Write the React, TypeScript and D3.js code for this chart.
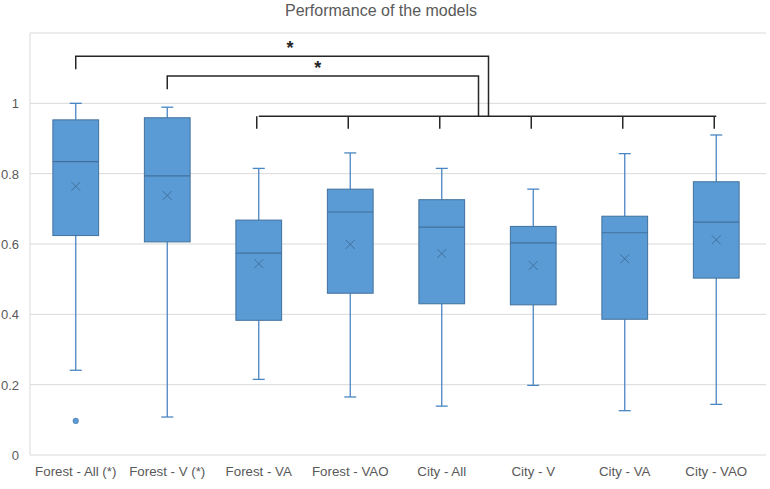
import React from "react";
import * as d3 from "d3";

const categories = ["Forest - All (*)", "Forest - V (*)", "Forest - VA", "Forest - VAO", "City - All", "City - V", "City - VA", "City - VAO"];
const whiskerLow = [0.241, 0.108, 0.215, 0.165, 0.139, 0.198, 0.126, 0.144];
const q1 = [0.624, 0.606, 0.383, 0.46, 0.43, 0.427, 0.386, 0.503];
const median = [0.834, 0.794, 0.574, 0.691, 0.648, 0.603, 0.632, 0.662];
const q3 = [0.953, 0.959, 0.668, 0.756, 0.726, 0.65, 0.679, 0.777];
const whiskerHigh = [1.0, 0.989, 0.815, 0.859, 0.815, 0.756, 0.857, 0.91];
const means = [0.764, 0.738, 0.544, 0.599, 0.573, 0.539, 0.558, 0.612];
const outliers = [[0.097], [], [], [], [], [], [], []];
const yTicks = [0, 0.2, 0.4, 0.6, 0.8, 1];
const groupMembers = [2, 3, 4, 5, 6, 7];
const sigFrom = [0, 1];
const sigLevel = [1.134, 1.078];
const sigLegEnd = [1.097, 1.04];
const groupLevel = 0.963;
const groupLegEnd = 0.928;

const W = 770;
const H = 489;
const left = 30;
const right = 762;
const top = 33;
const bottom = 455;

export default function App() {
  const x = d3.scaleBand<string>().domain(categories).range([left, right]).padding(0);
  const y = d3.scaleLinear().domain([0, 1.2]).range([bottom, top]);
  const bw = x.bandwidth();
  const boxW = bw * 0.5;
  const capW = 12;
  const cx = (i: number) => (x(categories[i]) as number) + bw / 2;
  const groupL = cx(groupMembers[0]);
  const groupR = cx(groupMembers[groupMembers.length - 1]);
  const groupMid = (groupL + groupR) / 2;
  const sigEnds = [groupMid + 1, groupMid - 9];
  const font = "'Liberation Sans', Arial, sans-serif";
  const txt = "#595959";
  const fill = "#5B9BD5";
  const stroke = "#41719C";
  const whisk = "#4A86C2";
  const black = "#262626";
  const sigStarX = [(cx(0) + sigEnds[0]) / 2 + 8, (cx(1) + sigEnds[1]) / 2 - 5];

  return (
    <svg width={W} height={H} style={{ position: "absolute", left: 0, top: 0, background: "#fff" }} fontFamily={font}>
      <text x={381} y={16} textAnchor="middle" fontSize={16} fill={txt}>Performance of the models</text>
      {[...yTicks, 1.2].map((t) => (
        <line key={"g" + t} x1={left} x2={right + 4} y1={y(t)} y2={y(t)} stroke="#d9d9d9" strokeWidth={1} />
      ))}
      <line x1={left} x2={left} y1={top} y2={bottom} stroke="#d9d9d9" strokeWidth={1} />
      {yTicks.map((t) => (
        <text key={"t" + t} x={19} y={y(t) + 5} textAnchor="end" fontSize={13} fill={txt}>{String(t)}</text>
      ))}
      {categories.map((c, i) => (
        <text key={"c" + c} x={cx(i)} y={476} textAnchor="middle" fontSize={13.3} fill={txt}>{c}</text>
      ))}
      {categories.map((c, i) => {
        const m = cx(i);
        return (
          <g key={"b" + c}>
            <line x1={m} x2={m} y1={y(whiskerHigh[i])} y2={y(q3[i])} stroke={whisk} strokeWidth={1.3} />
            <line x1={m} x2={m} y1={y(q1[i])} y2={y(whiskerLow[i])} stroke={whisk} strokeWidth={1.3} />
            <line x1={m - capW / 2} x2={m + capW / 2} y1={y(whiskerHigh[i])} y2={y(whiskerHigh[i])} stroke={whisk} strokeWidth={1.3} />
            <line x1={m - capW / 2} x2={m + capW / 2} y1={y(whiskerLow[i])} y2={y(whiskerLow[i])} stroke={whisk} strokeWidth={1.3} />
            <rect x={m - boxW / 2} y={y(q3[i])} width={boxW} height={y(q1[i]) - y(q3[i])} fill={fill} stroke={stroke} strokeWidth={1} />
            <line x1={m - boxW / 2} x2={m + boxW / 2} y1={y(median[i])} y2={y(median[i])} stroke={stroke} strokeWidth={1.2} />
            <path d={`M${m - 4.5},${y(means[i]) - 4.5}L${m + 4.5},${y(means[i]) + 4.5}M${m - 4.5},${y(means[i]) + 4.5}L${m + 4.5},${y(means[i]) - 4.5}`} stroke={stroke} strokeWidth={1} fill="none" />
            {outliers[i].map((o, k) => (
              <circle key={k} cx={m} cy={y(o)} r={2.8} fill={fill} stroke={stroke} strokeWidth={0.5} />
            ))}
          </g>
        );
      })}
      <g stroke={black} strokeWidth={1.5} fill="none">
        <line x1={groupL} x2={groupR} y1={y(groupLevel)} y2={y(groupLevel)} />
        {groupMembers.map((g) => (
          <line key={"gm" + g} x1={cx(g) - 2} x2={cx(g) - 2} y1={y(groupLevel)} y2={y(groupLegEnd)} />
        ))}
        {sigFrom.map((s, k) => (
          <path key={"s" + k} d={`M${cx(s)},${y(sigLegEnd[k])}V${y(sigLevel[k])}H${sigEnds[k]}V${y(groupLevel)}`} />
        ))}
      </g>
      {sigFrom.map((s, k) => (
        <text key={"st" + k} x={sigStarX[k]} y={y(sigLevel[k]) - 2} textAnchor="middle" fontSize={18} fontWeight="bold" fill={black}>*</text>
      ))}
    </svg>
  );
}
